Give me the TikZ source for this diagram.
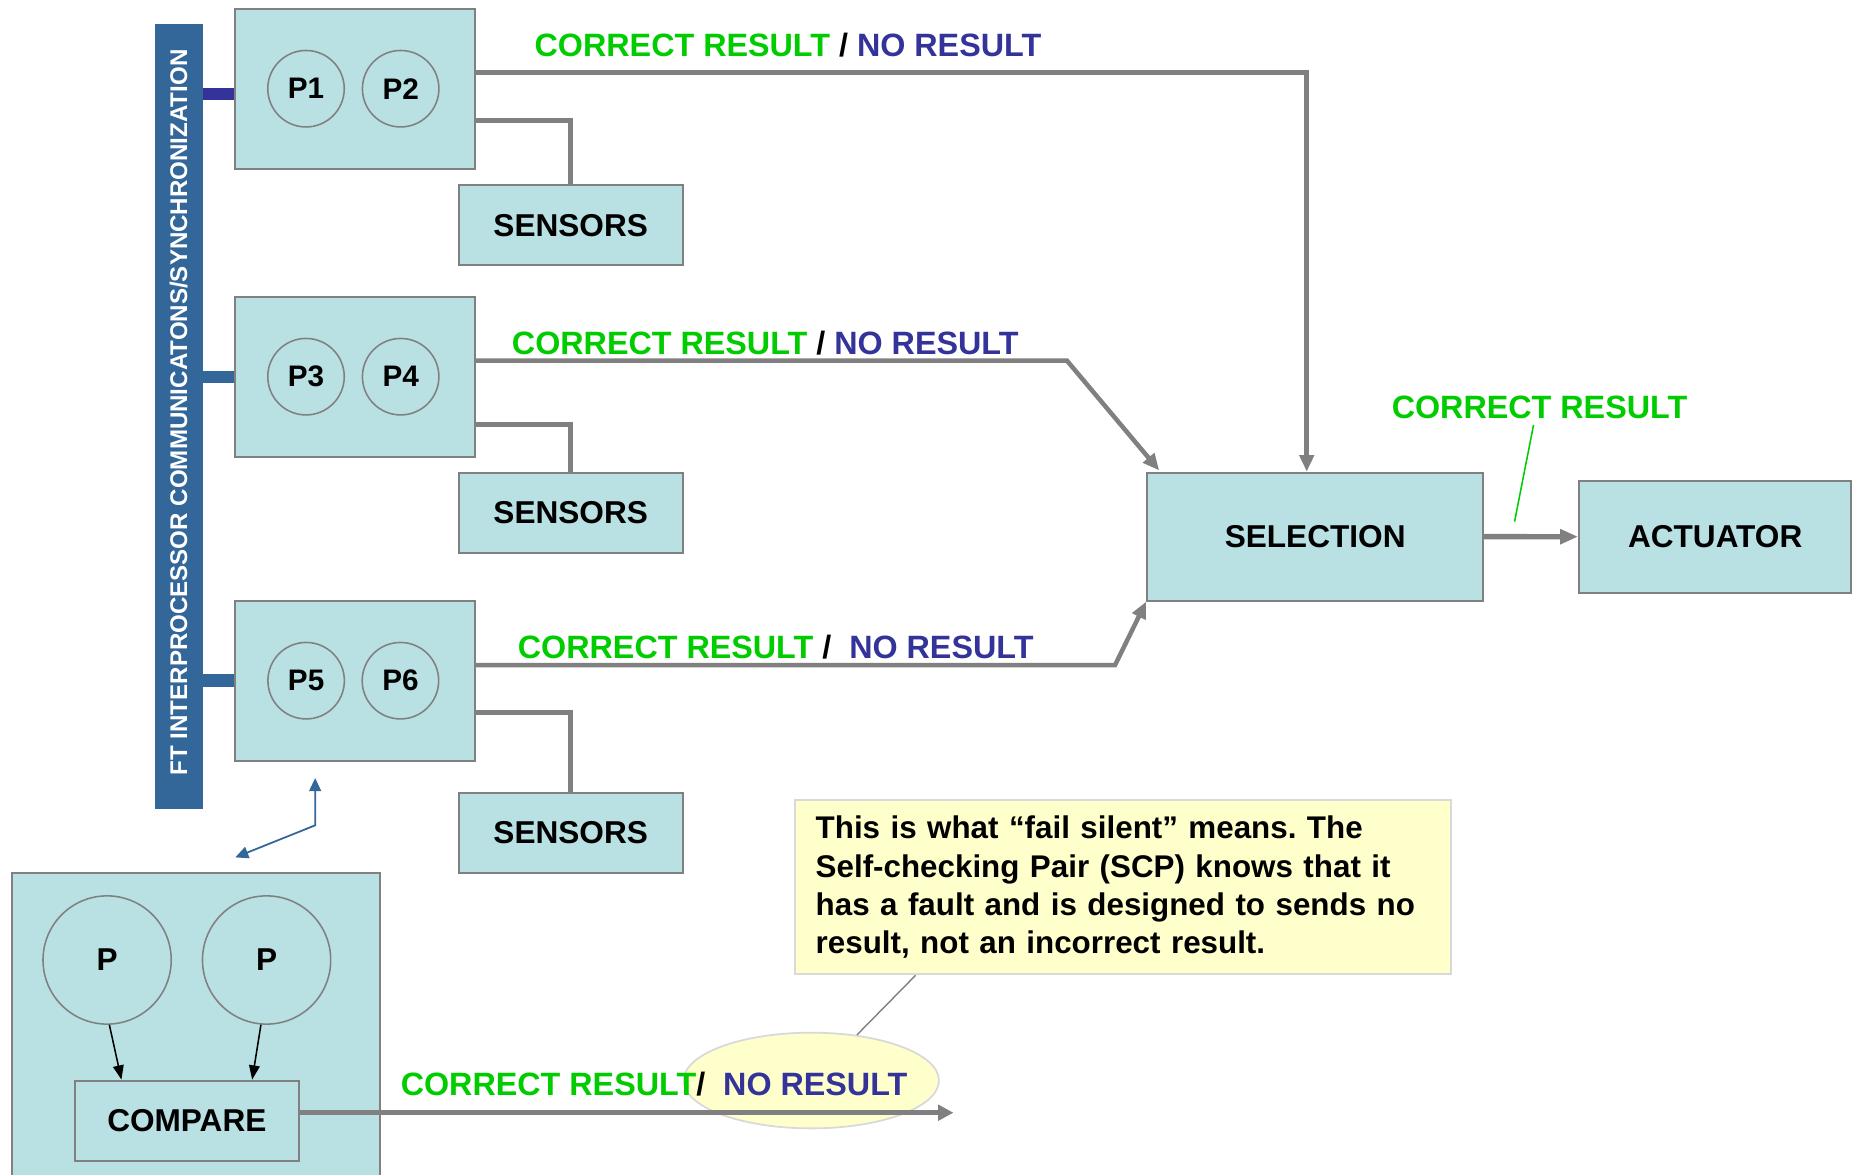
\documentclass[tikz,border=0pt]{standalone}
\usepackage{fontspec}
\setmainfont{Liberation Sans}
\usetikzlibrary{arrows.meta,shapes.geometric,calc}
\definecolor{boxfill}{RGB}{185,224,227}
\definecolor{boxline}{RGB}{128,128,128}
\definecolor{barblue}{RGB}{51,102,153}
\definecolor{navy}{RGB}{51,51,153}
\definecolor{okgreen}{RGB}{0,204,0}
\definecolor{notefill}{RGB}{255,255,204}
\definecolor{noteline}{RGB}{217,217,217}
\newcommand\okres{\textcolor{okgreen}{CORRECT RESULT}}
\newcommand\nores{\textcolor{navy}{NO RESULT}}
\frenchspacing
\tikzset{
  bigfont/.style={font=\bfseries\fontsize{26.6}{32}\selectfont},
  labfont/.style={font=\bfseries\fontsize{27.2}{32}\selectfont},
  procbox/.style={draw=boxline, line width=1.7, fill=boxfill, rectangle, inner sep=0},
  proc/.style={circle, draw=boxline, line width=1.3, fill=boxfill, inner sep=0, minimum size=64.4, font=\bfseries\fontsize{25}{30}\selectfont},
  flow/.style={draw=boxline, line width=3.8},
  flowarrow/.style={flow, -{Triangle[length=14pt,width=12pt]}},
  lab/.style={anchor=base west, inner sep=0, labfont},
}
\begin{document}
\begin{tikzpicture}[x=1pt,y=-1pt]
\useasboundingbox (0,0) rectangle (1568,989);
% vertical bus bar
\node[rectangle, fill=barblue, inner sep=0, minimum width=40.5, minimum height=660.8] (bar) at (150.75,350.6) {};
\node[rotate=90, text=white, inner sep=0, font=\bfseries\fontsize{20.3}{24}\selectfont] (bartext) at (150.5,347.3) {FT INTERPROCESSOR COMMUNICATONS/SYNCHRONIZATION};
% processor boxes
\node[procbox, minimum width=202.4, minimum height=134.7] (b1) at (298.8,74.65) {};
\node[procbox, minimum width=202.4, minimum height=134.8] (b2) at (298.8,317.2) {};
\node[procbox, minimum width=202.4, minimum height=135] (b3) at (298.8,573.3) {};
\node[proc] (p1) at (257.7,74.7) {P1};
\node[proc] (p2) at (337.4,74.7) {P2};
\node[proc] (p3) at (257.7,317.2) {P3};
\node[proc] (p4) at (337.4,317.2) {P4};
\node[proc] (p5) at (257.8,573.2) {P5};
\node[proc] (p6) at (337.2,573.2) {P6};
% sensors
\node[procbox, bigfont, minimum width=188.8, minimum height=67.2] (s1) at (480.6,189.6) {SENSORS};
\node[procbox, bigfont, minimum width=188.8, minimum height=67.4] (s2) at (480.6,431.7) {SENSORS};
\node[procbox, bigfont, minimum width=188.8, minimum height=67.9] (s3) at (480.6,701.5) {SENSORS};
% selection and actuator
\node[procbox, bigfont, minimum width=283, minimum height=107.8] (sel) at (1107.5,451.9) {SELECTION};
\node[procbox, bigfont, minimum width=229.3, minimum height=94.3] (act) at (1444.35,451.95) {ACTUATOR};
% bus connectors
\coordinate (c1) at (185,79.3);
\coordinate (c2) at (185,317.5);
\coordinate (c3) at (185,573);
\draw[line width=10, navy] (bar.east |- c1) -- (b1.west |- c1);
\draw[line width=10.6, barblue] (bar.east |- c2) -- (b2.west |- c2);
\draw[line width=10.6, barblue] (bar.east |- c3) -- (b3.west |- c3);
% sensor links
\coordinate (t1) at (480.6,101.6);
\coordinate (t2) at (480.6,357.3);
\coordinate (t3) at (480.6,600.1);
\draw[flow] (b1.east |- t1) -| (s1.north);
\draw[flow] (b2.east |- t2) -| (s2.north);
\draw[flow] (b3.east |- t3) -| (s3.north);
% outputs to selection
\coordinate (k1) at (1100.4,61.2);
\coordinate (k2) at (898.5,303.7);
\coordinate (k3) at (939,560);
\draw[flowarrow] (b1.east |- k1) -- (k1) -- (k1 |- sel.north);
\draw[flowarrow] (b2.east |- k2) -- (k2) -- ($(sel.north west)+(11,-1)$);
\draw[flowarrow] (b3.east |- k3) -- (k3) -- (sel.south west);
\draw[flow, line width=4.5, -{Triangle[length=15pt,width=12pt]}] (sel.east) -- (act.west);
% labels
\node[lab] (l1) at (450,47.2) {\okres\ / \nores};
\node[lab] (l2) at (430.9,298.1) {\okres\ / \nores};
\node[lab] (l3) at (435.9,554.4) {\okres\ /\ \ \nores};
\node[lab] (l5) at (1171.8,352.3) {\okres};
\coordinate (k5) at (1275.4,439.3);
\draw[okgreen, line width=1.3] ($(l5.south)+(-5,5)$) -- (k5);
% blue double arrow
\coordinate (ba) at (265.4,695);
\coordinate (bt1) at (265.4,655.2);
\coordinate (bt2) at (198.1,722);
\draw[barblue, line width=1.5, {Triangle[length=11pt,width=10pt]}-{Triangle[length=11pt,width=10pt]}] (bt1) -- (ba) -- (bt2);
% self-checking pair detail
\node[procbox, minimum width=309.9, minimum height=256] (scp) at (164.65,863) {};
\node[proc, minimum size=108, bigfont] (pa) at (90.2,808.4) {P};
\node[proc, minimum size=108, bigfont] (pb) at (224.5,808.4) {P};
\node[procbox, bigfont, minimum width=189.1, minimum height=67.7] (cmp) at (157.35,943.85) {COMPARE};
\draw[black, line width=1.3, -{Triangle[length=12pt,width=9pt]}] (pa.272) -- ($(cmp.north west)+(40.3,0)$);
\draw[black, line width=1.3, -{Triangle[length=12pt,width=9pt]}] (pb.265) -- ($(cmp.north west)+(150.4,0)$);
\node[ellipse, draw=noteline, line width=1.5, fill=notefill, minimum width=215, minimum height=80.6, inner sep=0] (ell) at (683.2,909.9) {};
\coordinate (k4) at (802.9,937);
\draw[flow, line width=4.5, -{Triangle[length=13pt,width=13pt]}] (cmp.east |- k4) -- (k4);
\node[lab] (l4) at (337.3,922.7) {\okres/\ \ \nores};
% note
\node[rectangle, draw=noteline, line width=1.5, fill=notefill, minimum width=552.7, minimum height=146.8, text width=517.3, inner xsep=17.7, inner ysep=0, align=left, font=\bfseries\fontsize{26.4}{32.2}\selectfont] (note) at (945.55,747.1) {This is what “fail silent” means. The\\Self-checking Pair (SCP) knows that it\\has a fault and is designed to sends no\\result, not an incorrect result.};
\draw[boxline, line width=1.2] ($(note.south west)+(102.6,0)$) -- (ell.45);
\end{tikzpicture}
\end{document}
